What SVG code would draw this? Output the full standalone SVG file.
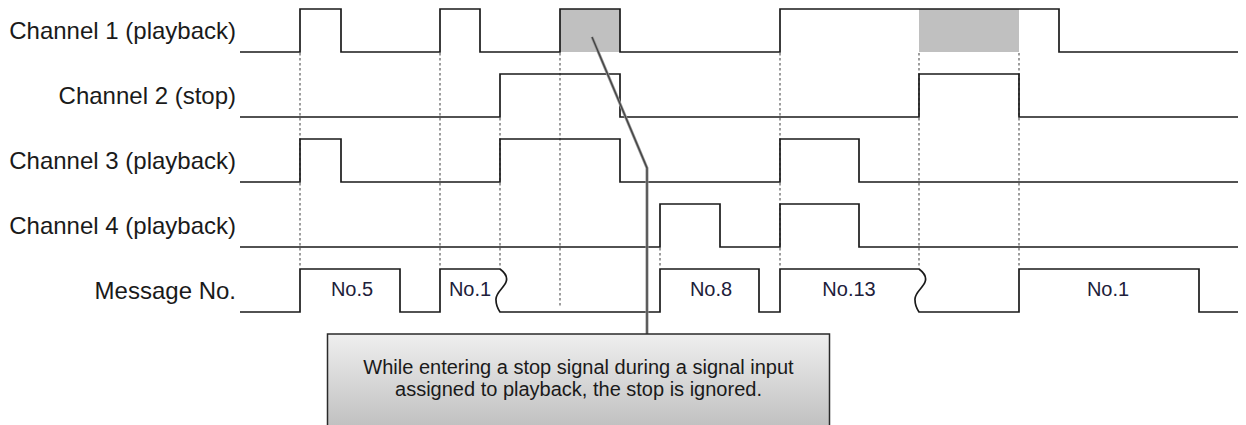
<svg xmlns="http://www.w3.org/2000/svg" width="1246" height="425" viewBox="0 0 1246 425">
<defs>
<linearGradient id="boxGrad" x1="0" y1="0" x2="0" y2="1">
<stop offset="0" stop-color="#efefef"/>
<stop offset="1" stop-color="#bdbdbd"/>
</linearGradient>
<style>
.lbl{font-family:"Liberation Sans",Arial,sans-serif;font-size:24px;fill:#1a1a1a;text-anchor:end}
.num{font-family:"Liberation Sans",Arial,sans-serif;font-size:20px;fill:#20203a;text-anchor:middle}
.note{font-family:"Liberation Sans",Arial,sans-serif;font-size:20px;fill:#1a1a1a;text-anchor:middle}
.wave{fill:none;stroke:#1a1a1a;stroke-width:1.7}
.dot{fill:none;stroke:#6a6a6a;stroke-width:1.3;stroke-dasharray:2.5 2.5}
.hl{fill:#c0c0c0;stroke:none}
</style>
</defs>
<rect width="1246" height="425" fill="#ffffff"/>

<g id="guides">
<path class="dot" d="M300,53V268 M440,53V268 M500,118V268 M560,53V308 M660,248V268 M780,53V268 M919,53V268 M1019,53V268"/>
</g>

<g id="ch1">
<rect class="hl" x="560" y="9" width="60" height="43"/>
<rect class="hl" x="919" y="9" width="100" height="43"/>
<text class="lbl" x="236" y="39">Channel 1 (playback)</text>
<path class="wave" d="M240,52H300V9H341V52H440V9H480V52H560V9H620V52H780V9H1059V52H1238"/>
</g>

<g id="ch2">
<text class="lbl" x="236" y="104">Channel 2 (stop)</text>
<path class="wave" d="M240,117H500V74H620V117H919V74H1019V117H1238"/>
</g>

<g id="ch3">
<text class="lbl" x="236" y="169">Channel 3 (playback)</text>
<path class="wave" d="M240,182H300V139H341V182H500V139H620V182H780V139H859V182H1238"/>
</g>

<g id="ch4">
<text class="lbl" x="236" y="234">Channel 4 (playback)</text>
<path class="wave" d="M240,247H660V204H720V247H780V204H859V247H1238"/>
</g>

<g id="message">
<text class="lbl" x="236" y="299">Message No.</text>
<path class="wave" d="M240,312H300V269H400V312H440V269H500C504,272 508,277 506,282C504,288 495,293 496,300C496,305 498,309 500,312H660V269H759V312H780V269H919C923,272 927,277 925,282C923,288 914,293 915,300C915,305 917,309 919,312H1019V269H1199V312H1238"/>
<text class="num" x="352" y="296">No.5</text>
<text class="num" x="470" y="296">No.1</text>
<text class="num" x="711" y="296">No.8</text>
<text class="num" x="849" y="296">No.13</text>
<text class="num" x="1108" y="296">No.1</text>
</g>

<g id="connectors">
<path d="M592,37L647,168V334" fill="none" stroke="#9a9a9a" stroke-width="3"/>
<path d="M592,37L647,168V334" fill="none" stroke="#444" stroke-width="1.4"/>
</g>

<g id="callout">
<rect x="327.5" y="334" width="502" height="100" fill="url(#boxGrad)" stroke="#2a2a2a" stroke-width="1.5"/>
<text class="note" x="578.5" y="374">While entering a stop signal during a signal  input</text>
<text class="note" x="578.5" y="396">assigned to playback, the stop is ignored.</text>
</g>
</svg>
